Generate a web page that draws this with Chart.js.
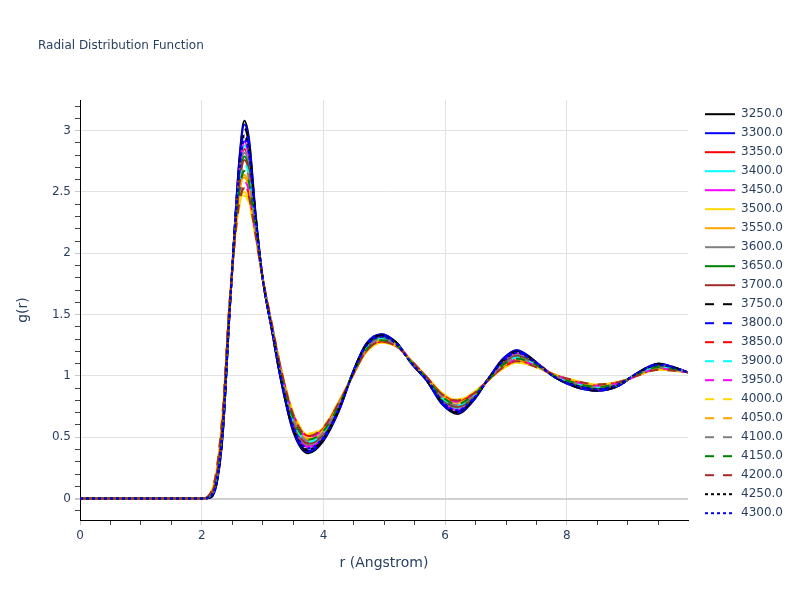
<!DOCTYPE html>
<html>
<head>
<meta charset="utf-8">
<title>Radial Distribution Function</title>
<script src="https://cdn.jsdelivr.net/npm/chart.js@4.4.1/dist/chart.umd.min.js"></script>
<style>
  html, body { margin: 0; padding: 0; background: #fff; }
  #wrap { width: 800px; height: 600px; }
</style>
</head>
<body>
<div id="wrap"><canvas id="rdf" width="800" height="600"></canvas></div>
<script>
// r grid (Angstrom) shared by every curve
var r = [0, 2.0, 2.15, 2.25, 2.35, 2.45, 2.55, 2.62, 2.7, 2.78, 2.88, 3.0, 3.15, 3.3, 3.5, 3.75, 4.0, 4.25, 4.5, 4.7,
         4.95, 5.2, 5.45, 5.7, 5.95, 6.2, 6.45, 6.7, 6.95, 7.18, 7.45, 7.8, 8.15, 8.5, 8.85, 9.15, 9.5, 9.99];

var labels = ['3250.0', '3300.0', '3350.0', '3400.0', '3450.0', '3500.0', '3550.0', '3600.0', '3650.0', '3700.0', '3750.0',
              '3800.0', '3850.0', '3900.0', '3950.0', '4000.0', '4050.0', '4100.0', '4150.0', '4200.0', '4250.0', '4300.0'];

// g(r) (sharp curves black/blue, broad ones gold/orange)
var g3250 = [0,0,.01,.13,.55,1.45,2.28,2.78,3.08,2.92,2.35,1.80,1.38,.97,.55,.37,.47,.71,1.05,1.26,1.34,1.27,1.10,.96,.77,.69,.79,.97,1.14,1.21,1.13,.99,.91,.88,.92,1.02,1.10,1.03];
var g3300 = [0,0,.01,.14,.56,1.45,2.27,2.76,3.05,2.90,2.34,1.80,1.38,.97,.56,.38,.48,.71,1.05,1.26,1.34,1.27,1.10,.96,.77,.70,.79,.97,1.14,1.21,1.13,.99,.91,.88,.92,1.02,1.10,1.03];
var g3350 = [0,0,.03,.18,.63,1.49,2.22,2.63,2.85,2.72,2.27,1.80,1.40,1.01,.61,.43,.52,.74,1.04,1.23,1.31,1.26,1.11,.97,.80,.74,.82,.97,1.11,1.17,1.11,1.00,.93,.90,.93,1.01,1.08,1.03];
var g3400 = [0,0,.02,.17,.62,1.48,2.23,2.65,2.88,2.75,2.28,1.80,1.40,1.00,.60,.42,.51,.74,1.04,1.24,1.32,1.26,1.11,.97,.80,.73,.81,.97,1.11,1.18,1.11,1.00,.93,.90,.93,1.01,1.08,1.03];
var g3450 = [0,0,.02,.17,.61,1.48,2.23,2.67,2.91,2.77,2.29,1.80,1.39,1.00,.60,.42,.50,.73,1.04,1.24,1.32,1.26,1.11,.97,.80,.72,.81,.97,1.12,1.18,1.12,1.00,.92,.89,.93,1.01,1.09,1.03];
var g3500 = [0,0,.05,.25,.75,1.55,2.13,2.40,2.50,2.42,2.15,1.80,1.43,1.07,.70,.52,.58,.79,1.02,1.19,1.27,1.24,1.12,.99,.86,.80,.86,.96,1.06,1.11,1.08,1.01,.96,.93,.95,1.00,1.05,1.03];
var g3550 = [0,0,.04,.22,.70,1.52,2.17,2.49,2.64,2.55,2.20,1.80,1.42,1.04,.66,.48,.56,.77,1.03,1.21,1.29,1.25,1.11,.98,.83,.78,.84,.96,1.08,1.14,1.09,1.00,.95,.92,.94,1.01,1.06,1.03];
var g3600 = [0,0,.03,.19,.64,1.49,2.21,2.61,2.82,2.70,2.26,1.80,1.40,1.01,.62,.44,.52,.74,1.04,1.23,1.31,1.26,1.11,.97,.81,.74,.82,.97,1.11,1.17,1.11,1.00,.93,.90,.93,1.01,1.08,1.03];
var g3650 = [0,0,.03,.19,.65,1.50,2.20,2.59,2.79,2.67,2.25,1.80,1.40,1.02,.63,.45,.53,.75,1.04,1.23,1.31,1.26,1.11,.97,.81,.75,.82,.97,1.10,1.16,1.11,1.00,.93,.90,.93,1.01,1.08,1.03];
var g3700 = [0,0,.03,.20,.66,1.50,2.20,2.57,2.76,2.65,2.24,1.80,1.41,1.02,.63,.45,.53,.75,1.03,1.22,1.30,1.25,1.11,.98,.82,.75,.83,.96,1.10,1.16,1.10,1.00,.94,.91,.94,1.01,1.07,1.03];
var g3750 = [0,0,.01,.14,.57,1.46,2.26,2.74,3.02,2.87,2.33,1.80,1.38,.98,.57,.39,.48,.72,1.05,1.25,1.33,1.27,1.10,.96,.78,.70,.80,.97,1.13,1.20,1.13,.99,.91,.88,.92,1.02,1.10,1.03];
var g3800 = [0,0,.02,.15,.58,1.46,2.26,2.72,2.99,2.85,2.32,1.80,1.39,.98,.57,.39,.49,.72,1.05,1.25,1.33,1.27,1.10,.96,.78,.71,.80,.97,1.13,1.20,1.12,.99,.92,.89,.92,1.02,1.09,1.03];
var g3850 = [0,0,.04,.24,.73,1.54,2.14,2.44,2.56,2.47,2.17,1.80,1.42,1.06,.69,.51,.57,.78,1.02,1.20,1.28,1.24,1.12,.99,.85,.79,.85,.96,1.07,1.12,1.09,1.01,.95,.92,.95,1.00,1.06,1.03];
var g3900 = [0,0,.03,.20,.67,1.51,2.19,2.55,2.73,2.62,2.23,1.80,1.41,1.03,.64,.46,.54,.76,1.03,1.22,1.30,1.25,1.11,.98,.82,.76,.83,.96,1.09,1.15,1.10,1.00,.94,.91,.94,1.01,1.07,1.03];
var g3950 = [0,0,.04,.24,.72,1.53,2.15,2.46,2.59,2.50,2.18,1.80,1.42,1.05,.68,.50,.57,.77,1.03,1.20,1.28,1.25,1.12,.98,.84,.79,.85,.96,1.08,1.13,1.09,1.01,.95,.92,.94,1.00,1.06,1.03];
var g4000 = [0,0,.05,.26,.76,1.55,2.12,2.38,2.47,2.40,2.14,1.80,1.43,1.07,.71,.53,.59,.79,1.02,1.19,1.27,1.24,1.12,.99,.86,.81,.86,.96,1.06,1.11,1.08,1.01,.96,.93,.95,1.00,1.05,1.03];
var g4050 = [0,0,.04,.23,.71,1.53,2.16,2.48,2.62,2.52,2.19,1.80,1.42,1.05,.67,.49,.56,.77,1.03,1.21,1.29,1.25,1.12,.98,.84,.78,.84,.96,1.08,1.13,1.09,1.01,.95,.92,.94,1.00,1.06,1.03];
var g4100 = [0,0,.04,.21,.68,1.51,2.18,2.53,2.70,2.60,2.22,1.80,1.41,1.03,.65,.47,.54,.76,1.03,1.22,1.30,1.25,1.11,.98,.83,.76,.83,.96,1.09,1.15,1.10,1.00,.94,.91,.94,1.01,1.07,1.03];
var g4150 = [0,0,.04,.22,.69,1.52,2.17,2.51,2.67,2.57,2.21,1.80,1.41,1.04,.66,.48,.55,.76,1.03,1.21,1.29,1.25,1.11,.98,.83,.77,.84,.96,1.09,1.14,1.10,1.00,.94,.91,.94,1.01,1.07,1.03];
var g4200 = [0,0,.05,.25,.74,1.54,2.14,2.42,2.53,2.45,2.16,1.80,1.43,1.06,.69,.51,.58,.78,1.02,1.20,1.28,1.24,1.12,.99,.85,.80,.85,.96,1.07,1.12,1.08,1.01,.96,.93,.95,1.00,1.05,1.03];
var g4250 = [0,0,.02,.15,.59,1.47,2.25,2.70,2.96,2.82,2.31,1.80,1.39,.99,.58,.40,.49,.73,1.04,1.25,1.33,1.26,1.10,.97,.79,.71,.80,.97,1.12,1.19,1.12,.99,.92,.89,.93,1.02,1.09,1.03];
var g4300 = [0,0,.02,.16,.60,1.47,2.24,2.68,2.93,2.80,2.30,1.80,1.39,.99,.59,.41,.50,.73,1.04,1.24,1.32,1.26,1.10,.97,.79,.72,.81,.97,1.12,1.19,1.12,.99,.92,.89,.93,1.02,1.09,1.03];

var series = [g3250, g3300, g3350, g3400, g3450, g3500, g3550, g3600, g3650, g3700, g3750,
              g3800, g3850, g3900, g3950, g4000, g4050, g4100, g4150, g4200, g4250, g4300];

// tick labels
var xMajor = [0, 2, 4, 6, 8];
var yMajor = [0, 0.5, 1, 1.5, 2, 2.5, 3];

var palette = ['black', 'blue', 'red', 'cyan', 'magenta', 'gold', 'orange', 'gray', 'green', 'brown'];
var txt = '#2a3f5f';

Chart.defaults.font.family = '"DejaVu Sans", Verdana, sans-serif';
Chart.defaults.font.size = 12;
Chart.defaults.color = txt;

var datasets = series.map(function (vals, i) {
  var dash = i < 10 ? [] : (i < 20 ? [9, 9] : [3, 3]);
  return {
    label: labels[i],
    data: r.map(function (x, j) { return {x: x, y: vals[j]}; }),
    borderColor: palette[i % 10],
    backgroundColor: palette[i % 10],
    borderWidth: 2,
    borderDash: dash,
    pointRadius: 0,
    fill: false,
    cubicInterpolationMode: 'monotone',
    order: series.length - 1 - i   // later traces on top, like the original
  };
});

function isMajor(list, v) {
  return list.some(function (m) { return Math.abs(m - v) < 1e-6; });
}

var xTicks = [];
for (var i = 0; i <= 19; i++) xTicks.push(i / 2);
var yTicks = [];
for (var k = -1; k <= 32; k++) yTicks.push(k / 10);

// move the legend a little away from the plot
var legendGap = {
  id: 'legendGap',
  afterLayout: function (chart) {
    if (chart.legend) { chart.legend.left += 10; chart.legend.right += 10; }
  }
};

new Chart(document.getElementById('rdf'), {
  type: 'line',
  data: { datasets: datasets },
  plugins: [legendGap],
  options: {
    responsive: false,
    animation: false,
    events: [],
    layout: { padding: { left: 38, right: 17, top: 0, bottom: 0 } },
    plugins: {
      title: {
        display: true,
        text: 'Radial Distribution Function',
        align: 'start',
        color: txt,
        font: { size: 12, weight: 'normal' },
        padding: { top: 39, bottom: 46.6 }
      },
      legend: {
        position: 'right',
        align: 'start',
        title: { display: true, text: '', font: { size: 1 }, padding: { top: 100, bottom: 0 } },
        labels: {
          usePointStyle: true,
          pointStyle: 'line',
          pointStyleWidth: 30,
          padding: 7,
          color: txt,
          font: { size: 12 },
          sort: function (a, b) { return a.datasetIndex - b.datasetIndex; },
          generateLabels: function (chart) {
            var items = Chart.defaults.plugins.legend.labels.generateLabels(chart);
            items.forEach(function (it) {
              var ds = chart.data.datasets[it.datasetIndex];
              it.lineDash = ds.borderDash;
              it.lineWidth = 2;
              it.strokeStyle = ds.borderColor;
            });
            return items;
          }
        }
      },
      tooltip: { enabled: false }
    },
    scales: {
      x: {
        type: 'linear',
        min: 0,
        max: 9.99,
        afterBuildTicks: function (scale) {
          scale.ticks = xTicks.map(function (v) { return {value: v}; });
        },
        afterFit: function (scale) { scale.height = 80; },
        ticks: {
          autoSkip: false,
          maxRotation: 0,
          padding: 4,
          color: txt,
          callback: function (v) { return isMajor(xMajor, v) ? String(v) : ''; }
        },
        grid: {
          color: function (c) { return (isMajor(xMajor, c.tick.value) && c.tick.value > 0) ? '#e2e2e2' : 'rgba(0,0,0,0)'; },
          tickColor: function (c) { return isMajor(xMajor, c.tick.value) ? '#c8c8c8' : '#444'; },
          tickLength: 5
        },
        border: { color: '#000', width: 1 },
        title: {
          display: true,
          text: 'r (Angstrom)',
          color: txt,
          font: { size: 14 },
          padding: { top: 0, bottom: 28.6 }
        }
      },
      y: {
        type: 'linear',
        min: -0.175,
        max: 3.25,
        afterBuildTicks: function (scale) {
          scale.ticks = yTicks.map(function (v) { return {value: v}; });
        },
        afterFit: function (scale) { scale.width = 42; },
        ticks: {
          autoSkip: false,
          padding: 4,
          color: txt,
          callback: function (v) { return isMajor(yMajor, v) ? String(v) : ''; }
        },
        grid: {
          color: function (c) {
            var v = c.tick.value;
            if (Math.abs(v) < 1e-6) return '#d0d0d0';
            return isMajor(yMajor, v) ? '#e2e2e2' : 'rgba(0,0,0,0)';
          },
          lineWidth: function (c) { return Math.abs(c.tick.value) < 1e-6 ? 2 : 1; },
          tickColor: function (c) { return isMajor(yMajor, c.tick.value) ? '#c8c8c8' : '#444'; },
          tickLength: 5
        },
        border: { color: '#000', width: 1 },
        title: {
          display: true,
          text: 'g(r)',
          color: txt,
          font: { size: 14 },
          padding: { top: -23.5, bottom: 0 }
        }
      }
    }
  }
});
</script>
</body>
</html>
